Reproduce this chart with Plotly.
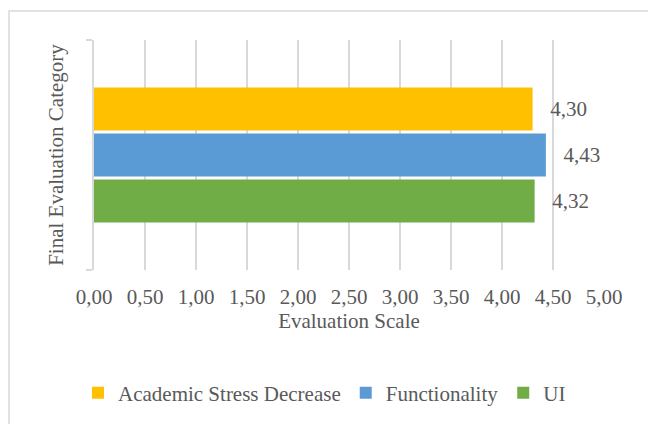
import plotly.graph_objects as go

categories = ["Final Evaluation"]
series_names = ["Academic Stress Decrease", "Functionality", "UI"]
series_values = [[4.30], [4.43], [4.32]]
series_colors = ["#FFC000", "#5B9BD5", "#70AD47"]
x_tick_vals = [0, 0.5, 1, 1.5, 2, 2.5, 3, 3.5, 4, 4.5, 5]

FONT = "Liberation Serif, Times New Roman, serif"
TXT = "#595959"
GRID = "#D9D9D9"

fig = go.Figure()
# plotly stacks grouped horizontal bars bottom-up, so add in reverse order
for name, vals, col in reversed(list(zip(series_names, series_values, series_colors))):
    fig.add_trace(go.Bar(
        y=categories, x=vals, name=name, orientation="h",
        marker=dict(color=col, line=dict(width=0)),
        texttemplate="\u00a0\u00a0\u2009%{x:.2f}", textposition="outside",
        textfont=dict(family=FONT, size=21, color=TXT),
        constraintext="none", cliponaxis=False,
    ))

W, H = 648, 424
L, R, T, B = 94, 44, 40, 154
pw, ph = W - L - R, H - T - B

def px_x(p):
    return (p - L) / pw

def px_y(p):
    return (H - B - p) / ph

fig.update_layout(
    width=W, height=H,
    margin=dict(l=L, r=R, t=T, b=B, autoexpand=False),
    paper_bgcolor="white", plot_bgcolor="white",
    separators=", ",
    barmode="group", bargap=0.4, bargroupgap=0.07,
    font=dict(family=FONT, size=21, color=TXT),
    showlegend=True,
    legend=dict(
        orientation="h", traceorder="reversed",
        x=px_x(78), xanchor="left", y=px_y(393), yanchor="middle",
        font=dict(family=FONT, size=21, color=TXT),
        bgcolor="rgba(0,0,0,0)",
    ),
    xaxis=dict(
        range=[0, 5], tickvals=x_tick_vals, tickformat=".2f",
        showgrid=True, gridcolor=GRID, gridwidth=1.5,
        zeroline=False, showline=False, ticks="",
        ticklabelstandoff=12,
        tickfont=dict(family=FONT, size=21, color=TXT),
        title=dict(text="Evaluation Scale", font=dict(family=FONT, size=21, color=TXT), standoff=4),
        fixedrange=True,
    ),
    yaxis=dict(
        type="category", range=[-0.5, 0.5],
        showticklabels=False, tickson="boundaries",
        ticks="outside", ticklen=6, tickcolor=GRID, tickwidth=1.5,
        showline=True, linecolor=GRID, linewidth=1.5,
        showgrid=False, zeroline=False,
        title=dict(text="Final Evaluation Category", font=dict(family=FONT, size=21, color=TXT), standoff=23),
        fixedrange=True,
    ),
    shapes=[dict(
        type="rect", xref="paper", yref="paper",
        x0=px_x(9), x1=px_x(660), y0=px_y(440), y1=px_y(11),
        line=dict(color=GRID, width=1.5), fillcolor="rgba(0,0,0,0)", layer="below",
    )],
)

fig.write_html("out.html")
